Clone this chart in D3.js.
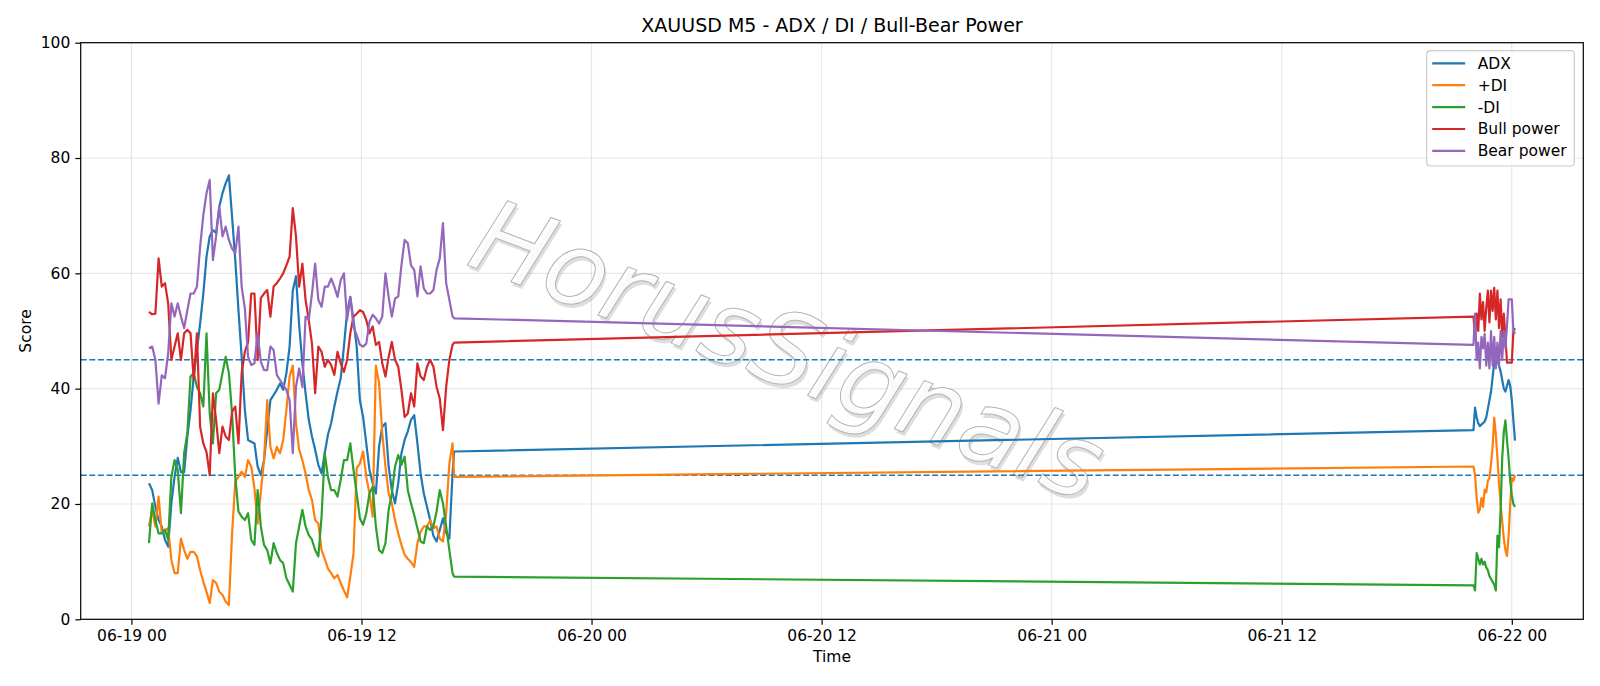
<!DOCTYPE html>
<html>
<head>
<meta charset="utf-8">
<script src="https://d3js.org/d3.v7.min.js"></script>
<style>
  body { margin: 0; background: #fff; }
  * { font-family: "DejaVu Sans", sans-serif; }
</style>
</head>
<body>
<script>
var times = [
  "2020-06-19 00:55","2020-06-19 01:05","2020-06-19 01:15","2020-06-19 01:25","2020-06-19 01:35","2020-06-19 01:45",
  "2020-06-19 01:55","2020-06-19 02:05","2020-06-19 02:15","2020-06-19 02:25","2020-06-19 02:35","2020-06-19 02:45",
  "2020-06-19 02:55","2020-06-19 03:05","2020-06-19 03:15","2020-06-19 03:25","2020-06-19 03:35","2020-06-19 03:45",
  "2020-06-19 03:55","2020-06-19 04:05","2020-06-19 04:15","2020-06-19 04:25",
  "2020-06-19 04:35","2020-06-19 04:45","2020-06-19 04:55","2020-06-19 05:05","2020-06-19 05:15","2020-06-19 05:25",
  "2020-06-19 05:35","2020-06-19 05:45","2020-06-19 05:55","2020-06-19 06:05","2020-06-19 06:15","2020-06-19 06:25",
  "2020-06-19 06:35","2020-06-19 06:45","2020-06-19 06:55","2020-06-19 07:05","2020-06-19 07:15","2020-06-19 07:25",
  "2020-06-19 07:35","2020-06-19 07:45","2020-06-19 07:55","2020-06-19 08:05","2020-06-19 08:15","2020-06-19 08:25",
  "2020-06-19 08:35","2020-06-19 08:45",
  "2020-06-19 08:55","2020-06-19 09:05","2020-06-19 09:15","2020-06-19 09:25","2020-06-19 09:35","2020-06-19 09:45",
  "2020-06-19 09:55","2020-06-19 10:05","2020-06-19 10:15","2020-06-19 10:25","2020-06-19 10:35","2020-06-19 10:45",
  "2020-06-19 10:55","2020-06-19 11:05","2020-06-19 11:15","2020-06-19 11:25","2020-06-19 11:35","2020-06-19 11:45",
  "2020-06-19 11:55","2020-06-19 12:05","2020-06-19 12:15","2020-06-19 12:25","2020-06-19 12:35","2020-06-19 12:45",
  "2020-06-19 12:55","2020-06-19 13:05","2020-06-19 13:15",
  "2020-06-19 13:25","2020-06-19 13:35","2020-06-19 13:45","2020-06-19 13:55","2020-06-19 14:05","2020-06-19 14:15",
  "2020-06-19 14:25","2020-06-19 14:35","2020-06-19 14:45","2020-06-19 14:55","2020-06-19 15:05","2020-06-19 15:15",
  "2020-06-19 15:25","2020-06-19 15:35","2020-06-19 15:45","2020-06-19 15:55","2020-06-19 16:05","2020-06-19 16:15",
  "2020-06-19 16:25","2020-06-19 16:35","2020-06-19 16:45","2020-06-19 16:50",
  "2020-06-21 22:00","2020-06-21 22:05","2020-06-21 22:10","2020-06-21 22:15","2020-06-21 22:20","2020-06-21 22:25",
  "2020-06-21 22:30","2020-06-21 22:35","2020-06-21 22:40","2020-06-21 22:45","2020-06-21 22:50","2020-06-21 22:55",
  "2020-06-21 23:00","2020-06-21 23:05","2020-06-21 23:10","2020-06-21 23:15","2020-06-21 23:20","2020-06-21 23:25",
  "2020-06-21 23:30","2020-06-21 23:35","2020-06-21 23:40","2020-06-21 23:45","2020-06-21 23:50","2020-06-21 23:55",
  "2020-06-22 00:00","2020-06-22 00:05","2020-06-22 00:10"
];

var adx = [
  23.6, 22.4, 19.5, 17.2, 16.1, 13.8, 12.6, 20.1, 24.7, 28, 25.5, 25.5, 31.7, 36.3, 42.1, 46.7, 51.3, 56.5, 62.9, 66.4, 67.5, 67,
  71.6, 73.9, 75.6, 77, 69.8, 62.3, 53.6, 45.5, 36.3, 31.1, 30.8, 30.5, 26.5, 25, 27.6, 32.8, 38, 38.9, 39.8, 40.9, 39.8, 42.7, 47.3, 57, 59.5, 51,
  44.4, 39.2, 34.6, 31.7, 29.4, 26.8, 25.3, 28.8, 32, 34, 36.9, 39.5, 41.8, 47.3, 53.3, 55.9, 51.9, 47.3, 38, 35.1, 30.5, 25.9, 23.6, 21.8, 29.9, 33.4, 34,
  26.5, 22.4, 20.1, 23.6, 28.8, 31.1, 32.6, 34.6, 35.4, 30.5, 25.3, 21.8, 19.5, 17.2, 14.5, 13.5, 15.5, 17.5, 15, 14, 25.3, 29.1,
  32.8, 36.7, 35, 34, 33.5, 33.8, 34, 34.3, 35, 36.5, 38, 39.5, 42, 44.5, 47, 45, 44, 43, 41.5, 40, 39.5, 40.5, 41.5, 40.5, 38, 34.5, 31
];
var plusDI = [
  16.1, 19, 16.1, 21.3, 14.9, 15.5, 15.8, 10.3, 8, 8, 14, 12, 10.5, 11.7, 11.7, 10.9, 8.5, 6.5, 4.8, 2.8, 6.8, 6.3,
  4.8, 4.2, 3.1, 2.5, 14.9, 23.9, 24.7, 25.6, 24.7, 27.6, 26.5, 22.7, 16.6, 22.1, 27.6, 38, 29.9, 27.9, 29.9, 28.8, 31.1, 36.3, 42.1, 44, 34, 29.4,
  27.6, 25.3, 22.4, 20.7, 17.2, 16.6, 12, 10.5, 8.8, 8, 7.1, 7.7, 6.3, 5, 3.8, 7.4, 11.4, 26.2, 27, 29.1, 24.7, 21.8, 17.8, 44, 41, 32.3, 26.5,
  21.8, 20.1, 17.2, 14.9, 12.9, 11.2, 10.5, 9.9, 9.1, 13.2, 15.2, 16.1, 16.1, 17.2, 15.8, 16.1, 14, 13.5, 18.4, 27, 30.5, 24.7,
  26.5, 25, 21, 18.5, 19, 21, 19.5, 22.5, 22, 24, 24.5, 27, 30, 35, 32, 28, 23.5, 20, 17, 14, 12, 11, 14.5, 20, 24.5, 24, 25
];
var minusDI = [
  13.2, 20.1, 17.2, 14.9, 14.9, 15.5, 13.8, 24.7, 27.6, 25.9, 18.4, 28.8, 32.3, 42.1, 42.7, 40.3, 39.2, 36.9, 49.6, 35.7, 30.5, 39.2,
  39.8, 42.7, 45.5, 42.7, 35.7, 24.7, 18.7, 17.8, 17.2, 18.4, 13.8, 12.9, 22.4, 16.1, 12.9, 12, 9.7, 13.2, 11.5, 10.3, 9.7, 7.1, 6, 4.8, 13.2, 16.1,
  19, 16.1, 14.6, 13.8, 12, 10.9, 17.8, 28.8, 24.7, 22.4, 22.4, 21.3, 24.2, 27.6, 27.6, 30.5, 25.9, 21.8, 17.5, 16.4, 18.4, 21.8, 23, 16.1, 12, 11.5, 13.2,
  19, 21.8, 26.5, 28.5, 26.8, 28.2, 22.4, 20.1, 18.1, 15.8, 13.5, 13.2, 16.1, 15.5, 16.1, 18.7, 22.4, 20.1, 16.1, 12, 8, 7.4,
  5.9, 5, 11.5, 10.5, 9.5, 10.5, 9.5, 10, 9, 8.5, 7.5, 7, 6.5, 6, 5, 14.5, 12.5, 19, 28, 32.5, 34.5, 31, 28, 24, 21.5, 20, 19.5
];
var bullPower = [
  53.3, 52.9, 53, 62.6, 57.7, 58.3, 54.8, 45, 47.3, 49.6, 45, 49.6, 50.2, 49.6, 41.5, 49.6, 33.4, 30.5, 29, 25, 39.2, 34.6,
  28.8, 33.4, 31.7, 31.1, 36, 36.9, 30.5, 42.7, 46.4, 48.1, 56.5, 56.5, 45, 55.7, 56.5, 57.1, 52.5, 57.7, 58.3, 59.1, 60, 61.4, 62.9, 71.3, 66.4, 57.7,
  61.7, 55.4, 51.9, 47.8, 39.2, 47.3, 46.4, 43.8, 45, 44.1, 42.4, 46.4, 44.4, 42.9, 45, 49.6, 52.5, 53, 53.6, 53.3, 51.9, 49.6, 50.8, 47.6, 48.1, 44.4, 42.1,
  45.5, 48.1, 45, 43.8, 39.8, 35.1, 35.7, 39.2, 36.9, 44.4, 42.1, 41.5, 43.8, 45, 43.8, 40.3, 38.3, 32.8, 40.3, 45, 47.6, 48,
  52.5, 49, 53, 50, 56.5, 52, 55, 50, 54, 57, 51.5, 57, 53.5, 57.5, 52, 57, 50.5, 55.5, 49, 53, 49, 44.5, 44.5, 44.5, 44.5, 50, 50.5
];
var bearPower = [
  47, 47.3, 45, 37.4, 42.3, 41.8, 46.1, 54.8, 52.5, 54.8, 52.5, 50.5, 53.6, 56.5, 56.5, 57.7, 64.6, 70.1, 73.9, 76.2, 62.3, 66.4,
  71.6, 66.4, 68.1, 65.8, 64.3, 63.5, 68.1, 57.7, 53.9, 45.5, 44.1, 44.4, 49.6, 44.7, 43.2, 43.2, 47.3, 46.7, 42.4, 41.5, 40.6, 39.8, 38, 28.8, 40.3, 43.5,
  40.3, 52.5, 51.9, 56.5, 61.7, 55.4, 54.2, 57.7, 57.7, 59.1, 57.7, 55.9, 58.8, 60, 51.9, 55.9, 50.8, 49.3, 47.6, 47.3, 47.8, 51.6, 52.8, 52.2, 51.3, 52.5, 60,
  55.9, 52.5, 55.6, 56, 61.4, 65.8, 65.2, 61.4, 60.6, 56, 61.2, 57.4, 56.5, 56.5, 57.1, 60.6, 62.6, 68.7, 58.3, 55.4, 52.5, 52.2,
  47.6, 53, 45, 48, 43.5, 49, 47, 49.5, 44, 48, 43.5, 50, 44, 49, 43.5, 48, 44, 50, 45, 50, 47, 51, 55.5, 55.5, 55.5, 50, 49.5
];

var seriesNames = ["ADX", "+DI", "-DI", "Bull power", "Bear power"];
var seriesColors = ["#1f77b4", "#ff7f0e", "#2ca02c", "#d62728", "#9467bd"];
var thresholds = [45, 25];
var yTicks = [0, 20, 40, 60, 80, 100];
var xTicks = ["2020-06-19 00:00", "2020-06-19 12:00", "2020-06-20 00:00", "2020-06-20 12:00",
              "2020-06-21 00:00", "2020-06-21 12:00", "2020-06-22 00:00"];

var W = 1600, H = 686,
    margin = {top: 42.7, right: 16.7, bottom: 66.7, left: 80.7},
    width = W - margin.left - margin.right,
    height = H - margin.top - margin.bottom;

var parse = d3.utcParse("%Y-%m-%d %H:%M");
var dates = times.map(parse);
var allSeries = [adx, plusDI, minusDI, bullPower, bearPower];

var svg = d3.select("body").append("svg")
    .attr("width", W)
    .attr("height", H);

var g = svg.append("g")
    .attr("transform", "translate(" + margin.left + "," + margin.top + ")");

// matplotlib style 5% x padding
var t0 = d3.min(dates), t1 = d3.max(dates), pad = (t1 - t0) * 0.05;
var x = d3.scaleUtc()
    .domain([new Date(+t0 - pad), new Date(+t1 + pad)])
    .range([0, width]);
var y = d3.scaleLinear().domain([0, 100]).range([height, 0]);

// grid
g.append("g").selectAll("line").data(xTicks.map(parse)).enter().append("line")
    .attr("x1", d => x(d)).attr("x2", d => x(d))
    .attr("y1", 0).attr("y2", height)
    .attr("stroke", "#b0b0b0").attr("stroke-opacity", 0.3).attr("stroke-width", 1.2);
g.append("g").selectAll("line").data(yTicks).enter().append("line")
    .attr("x1", 0).attr("x2", width)
    .attr("y1", d => y(d)).attr("y2", d => y(d))
    .attr("stroke", "#b0b0b0").attr("stroke-opacity", 0.3).attr("stroke-width", 1.2);

// watermark
var wm = g.append("g")
    .attr("transform", "translate(" + (788 - margin.left) + "," + (350 - margin.top) + ") rotate(21)");
wm.append("text")
    .attr("x", 3).attr("y", 3)
    .attr("text-anchor", "middle").attr("dominant-baseline", "central")
    .style("font-size", "102px").style("font-style", "italic")
    .attr("fill", "#a0a0a0").attr("fill-opacity", 0.35)
    .text("HorusSignals");
wm.append("text")
    .attr("text-anchor", "middle").attr("dominant-baseline", "central")
    .style("font-size", "102px").style("font-style", "italic")
    .attr("fill", "#ffffff").attr("fill-opacity", 0.85)
    .attr("stroke", "#b4b4b4").attr("stroke-width", 1)
    .text("HorusSignals");

// thresholds
g.append("g").selectAll("line").data(thresholds).enter().append("line")
    .attr("x1", 0).attr("x2", width)
    .attr("y1", d => y(d)).attr("y2", d => y(d))
    .attr("stroke", "#1f77b4").attr("stroke-width", 1.5)
    .attr("stroke-dasharray", "6,2.6");

// series
var line = d3.line()
    .x((d, i) => x(dates[i]))
    .y(d => y(d));

g.append("g").selectAll("path").data(allSeries).enter().append("path")
    .attr("d", d => line(d))
    .attr("fill", "none")
    .attr("stroke", (d, i) => seriesColors[i])
    .attr("stroke-width", 2.2)
    .attr("stroke-linejoin", "round");

// axes
var fmt = d3.utcFormat("%m-%d %H");
var xAxis = g.append("g")
    .attr("transform", "translate(0," + height + ")")
    .call(d3.axisBottom(x).tickValues(xTicks.map(parse)).tickFormat(fmt).tickSize(5.4).tickPadding(5));
var yAxis = g.append("g")
    .call(d3.axisLeft(y).tickValues(yTicks).tickSize(5.4).tickPadding(5));
[xAxis, yAxis].forEach(a => {
  a.selectAll("text").style("font-size", "15.5px").attr("fill", "#000");
  a.selectAll("line").attr("stroke", "#000").attr("stroke-width", 1.2);
  a.select(".domain").remove();
});
g.append("rect")
    .attr("width", width).attr("height", height)
    .attr("fill", "none").attr("stroke", "#000").attr("stroke-width", 1.2);

// labels
svg.append("text")
    .attr("x", margin.left + width / 2).attr("y", 32)
    .attr("text-anchor", "middle")
    .style("font-size", "19px")
    .text("XAUUSD M5 - ADX / DI / Bull-Bear Power");
svg.append("text")
    .attr("x", margin.left + width / 2).attr("y", 662)
    .attr("text-anchor", "middle")
    .style("font-size", "15.5px")
    .text("Time");
svg.append("text")
    .attr("transform", "translate(31," + (margin.top + height / 2) + ") rotate(-90)")
    .attr("text-anchor", "middle")
    .style("font-size", "15.5px")
    .text("Score");

// legend
var lg = svg.append("g").attr("transform", "translate(1426.7,50.7)");
lg.append("rect")
    .attr("width", 147.6).attr("height", 115.3).attr("rx", 3.5)
    .attr("fill", "#fff").attr("fill-opacity", 0.8)
    .attr("stroke", "#cccccc").attr("stroke-width", 1.2);
var items = lg.selectAll("g.item").data(seriesNames).enter().append("g")
    .attr("class", "item")
    .attr("transform", (d, i) => "translate(0," + (12.6 + i * 21.9) + ")");
items.append("line")
    .attr("x1", 5.5).attr("x2", 38.5)
    .attr("stroke", (d, i) => seriesColors[i]).attr("stroke-width", 2.2);
items.append("text")
    .attr("x", 51).attr("dy", "0.35em")
    .style("font-size", "15.5px")
    .text(d => d);
</script>
</body>
</html>
